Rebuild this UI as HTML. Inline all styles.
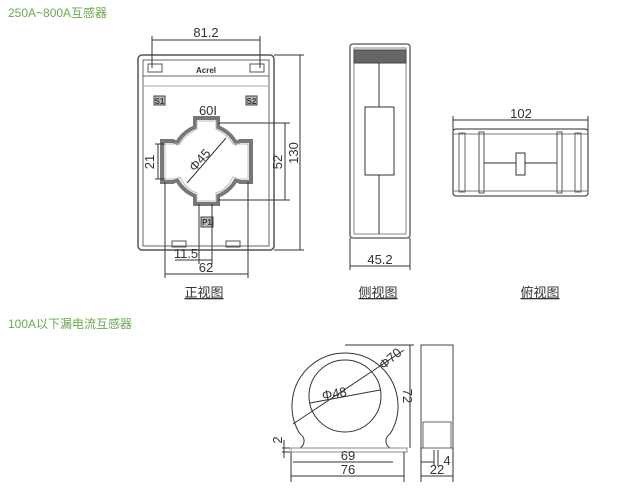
<!DOCTYPE html>
<html><head><meta charset="utf-8"><style>
html,body{margin:0;padding:0;background:#fff;width:624px;height:490px;overflow:hidden}
svg{display:block}
text{font-family:"Liberation Sans","Noto Sans CJK SC",sans-serif}
</style></head><body>
<svg width="624" height="490" viewBox="0 0 624 490" xmlns="http://www.w3.org/2000/svg">
<g font-size="12" fill="#6aa84f">
<text x="8" y="17">250A~800A互感器</text>
<text x="8" y="328">100A以下漏电流互感器</text>
</g>
<g fill="none" stroke="#333" stroke-width="1">
<!-- front view -->
<rect x="138" y="55" width="136" height="195" rx="4" stroke="#555" stroke-width="1.5"/>
<rect x="143" y="60" width="126" height="186" stroke="#666"/>
<line x1="143" y1="76" x2="269" y2="76" stroke="#666"/>
<line x1="143" y1="86" x2="269" y2="86" stroke="#aaa"/>
<rect x="148" y="64" width="14" height="8" stroke="#555"/>
<rect x="250" y="64" width="14" height="8" stroke="#555"/>
<rect x="154" y="96" width="11" height="9" fill="#bbb" stroke="#444"/>
<rect x="246" y="96" width="11" height="9" fill="#bbb" stroke="#444"/>
<rect x="201" y="217" width="12" height="10" fill="#bbb" stroke="#444"/>
<rect x="172" y="241" width="14" height="6" stroke="#555"/>
<rect x="226" y="241" width="14" height="6" stroke="#555"/>
<path d="M195,118 H218 V127 L222,129 A35 35 0 0 1 236,143 L240,141 H251 V182 H240 L236,180 A35 35 0 0 1 222,194 L218,196 V204 H195 V196 L191,194 A35 35 0 0 1 177,180 L173,182 H162 V141 H173 L177,143 A35 35 0 0 1 191,129 L195,127 Z" stroke="#777" stroke-width="4"/>
<path d="M197,121 H216 V129 L221,132 A32 32 0 0 1 233,144 L238,144 H248 V179 H238 L233,177 A32 32 0 0 1 221,191 L216,193 V201 H197 V193 L192,191 A32 32 0 0 1 180,177 L175,179 H165 V144 H175 L180,144 A32 32 0 0 1 192,132 L197,129 Z" stroke="#bbb"/>
<line x1="187" y1="183" x2="226" y2="138"/>
<!-- dims front -->
<line x1="152" y1="40" x2="260" y2="40"/>
<line x1="152" y1="36" x2="152" y2="68"/>
<line x1="260" y1="36" x2="260" y2="68"/>
<line x1="274" y1="55" x2="304" y2="55"/>
<line x1="274" y1="250" x2="304" y2="250"/>
<line x1="300" y1="55" x2="300" y2="250"/>
<line x1="218" y1="123" x2="290" y2="123"/>
<line x1="218" y1="200" x2="290" y2="200"/>
<line x1="285" y1="123" x2="285" y2="200"/>
<line x1="158" y1="144" x2="158" y2="179"/>
<line x1="155" y1="144" x2="165" y2="144"/>
<line x1="155" y1="179" x2="165" y2="179"/>
<line x1="165" y1="182" x2="165" y2="278"/>
<line x1="248" y1="182" x2="248" y2="278"/>
<line x1="165" y1="274" x2="248" y2="274"/>
<line x1="199" y1="204" x2="199" y2="264"/>
<line x1="212" y1="204" x2="212" y2="264"/>
<line x1="175" y1="260" x2="212" y2="260"/>
<!-- side view -->
<rect x="350" y="44" width="60" height="194" rx="3" stroke="#555" stroke-width="1.3"/>
<rect x="354" y="48" width="52" height="186" stroke="#888"/>
<rect x="354" y="50" width="52" height="13" fill="#666" stroke="#444"/>
<line x1="379" y1="63" x2="379" y2="234"/>
<rect x="365" y="107" width="29" height="68" fill="#fff"/>
<line x1="350" y1="238" x2="350" y2="270"/>
<line x1="410" y1="238" x2="410" y2="270"/>
<line x1="350" y1="266" x2="410" y2="266"/>
<!-- top view -->
<rect x="453" y="129" width="135" height="67" rx="3" stroke="#555" stroke-width="1.3"/>
<line x1="453" y1="134" x2="588" y2="134" stroke="#777"/>
<line x1="453" y1="191" x2="588" y2="191" stroke="#777"/>
<rect x="459" y="133" width="6" height="59" stroke="#666"/>
<rect x="479" y="132" width="5" height="61" stroke="#555"/>
<rect x="557" y="132" width="5" height="61" stroke="#555"/>
<rect x="575" y="133" width="6" height="59" stroke="#666"/>
<line x1="484" y1="163" x2="557" y2="163"/>
<rect x="516" y="153" width="9" height="22" fill="#fff"/>
<line x1="453" y1="120" x2="588" y2="120"/>
<line x1="453" y1="116" x2="453" y2="130"/>
<line x1="588" y1="116" x2="588" y2="130"/>
<!-- leakage CT -->
<path d="M292,448 A8 8 0 0 0 300,434 A53 53 0 1 1 390,434 A8 8 0 0 0 398,448 Z"/>
<circle cx="345" cy="396" r="36"/>
<rect x="291" y="448" width="116" height="4" fill="#fff" stroke="#888"/>
<line x1="293" y1="424" x2="404" y2="350"/>
<line x1="310" y1="403" x2="380" y2="390"/>
<line x1="345" y1="345" x2="414" y2="345"/>
<line x1="410" y1="345" x2="410" y2="448"/>
<line x1="291" y1="452" x2="291" y2="482"/>
<line x1="404" y1="452" x2="404" y2="482"/>
<line x1="291" y1="476" x2="404" y2="476"/>
<line x1="293" y1="462" x2="393" y2="462"/>
<line x1="282" y1="448" x2="290" y2="448"/>
<line x1="282" y1="452" x2="290" y2="452"/>
<line x1="284" y1="440" x2="284" y2="458"/>
<rect x="421" y="345" width="32" height="103" stroke="#444"/>
<rect x="423" y="422" width="28" height="26" stroke="#666"/>
<line x1="421" y1="448" x2="421" y2="482"/>
<line x1="453" y1="448" x2="453" y2="482"/>
<line x1="421" y1="476" x2="453" y2="476"/>
<line x1="421" y1="462" x2="434" y2="462"/>
<line x1="434" y1="450" x2="434" y2="466"/>
<line x1="438" y1="450" x2="438" y2="466"/>
</g>
<g font-size="13" fill="#333">
<text x="206" y="37" text-anchor="middle">81.2</text>
<text x="208" y="115" text-anchor="middle">60I</text>
<text x="206" y="272" text-anchor="middle">62</text>
<text x="186" y="258" text-anchor="middle">11.5</text>
<text x="203" y="163" transform="rotate(-48 203 163)" text-anchor="middle">Φ45</text>
<text x="154" y="162" transform="rotate(-90 154 162)" text-anchor="middle">21</text>
<text x="282" y="162" transform="rotate(-90 282 162)" text-anchor="middle">52</text>
<text x="298" y="153" transform="rotate(-90 298 153)" text-anchor="middle">130</text>
<text x="380" y="264" text-anchor="middle">45.2</text>
<text x="521" y="118" text-anchor="middle">102</text>
<text x="335" y="398" transform="rotate(-10 335 398)" text-anchor="middle">Φ48</text>
<text x="393" y="362" transform="rotate(-40 393 362)" text-anchor="middle">Φ70</text>
<text x="403" y="396" transform="rotate(90 403 396)" text-anchor="middle">72</text>
<text x="282" y="440" transform="rotate(-90 282 440)" text-anchor="middle">2</text>
<text x="348" y="460" text-anchor="middle">69</text>
<text x="348" y="474" text-anchor="middle">76</text>
<text x="447" y="465" text-anchor="middle">4</text>
<text x="437" y="474" text-anchor="middle">22</text>
</g>
<g font-size="8" fill="#333" font-weight="bold">
<text x="206" y="73" text-anchor="middle">Acrel</text>
<text x="159.5" y="104" text-anchor="middle">S1</text>
<text x="251.5" y="104" text-anchor="middle">S2</text>
<text x="207" y="225" text-anchor="middle">P1</text>
</g>
<g font-size="13" fill="#333">
<text x="204" y="297" text-anchor="middle" text-decoration="underline">正视图</text>
<text x="378" y="297" text-anchor="middle" text-decoration="underline">侧视图</text>
<text x="540" y="297" text-anchor="middle" text-decoration="underline">俯视图</text>
</g>
</svg>
</body></html>
